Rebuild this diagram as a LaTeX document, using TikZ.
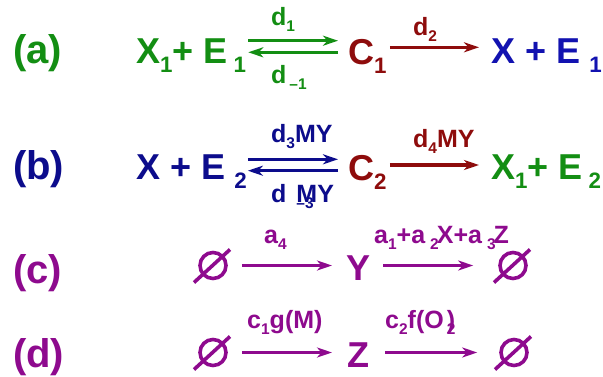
\documentclass[tikz,border=0pt]{standalone}
\usepackage{fontspec}
\setmainfont{Liberation Sans}
\usepackage{graphicx}
\usetikzlibrary{arrows.meta,positioning,calc}
\definecolor{rxngreen}{HTML}{138E13}
\definecolor{rxnnavy}{HTML}{0C0C8C}
\definecolor{rxnblue}{HTML}{1212B0}
\definecolor{rxnred}{HTML}{8E0C0C}
\definecolor{rxnpurple}{HTML}{8E0A8E}
\newcommand\lo[1]{\raisebox{-0.26em}{\scalebox{0.62}{#1}}}

\begin{document}
\begin{tikzpicture}[
    x=1pt, y=-1pt,
    tag/.style={font=\fontsize{40}{40}\selectfont\bfseries, inner sep=0, anchor=base west},
    species/.style={font=\fontsize{36}{36}\selectfont\bfseries, inner sep=0, anchor=base west},
    rate/.style={font=\fontsize{25}{25}\selectfont\bfseries, inner sep=0, anchor=base west},
    rxn/.style={line width=3.2pt, -{Stealth[length=15pt,width=10pt,inset=4.5pt]}},
    nullset/.style={circle, draw, line width=3.6pt, minimum size=26pt, inner sep=0}
]
  \fill[white] (0,0) rectangle (603,376);
  \useasboundingbox (0,0) rectangle (603,376);

  % (a)
  \node[tag, rxngreen] (tagA) at (13,63) {(a)};
  \node[species, rxngreen] (lhsA) at (136,63) {X\lo{1}+ E\,\lo{1}};
  \node[species, rxnred] (cA) at (348,64) {C\lo{1}};
  \node[species, rxnblue] (rhsA) at (491,63) {X + E\hspace{0.25em}\lo{1}};
  \node[rate, rxngreen] (dA1) at (271,25) {d\lo{1}};
  \node[rate, rxngreen] (dA2) at (271,83) {d\hspace{3pt}\lo{–1}};
  \node[rate, rxnred] (dA3) at (413,35) {d\lo{2}};
  \coordinate (upA) at (0,40.7);
  \coordinate (dnA) at (0,52.3);
  \coordinate (onA) at (0,47.3);
  \draw[rxn, rxngreen, shorten <=2pt, shorten >=10pt] (lhsA.east |- upA) -- (cA.west |- upA);
  \draw[rxn, rxngreen, shorten <=10pt, shorten >=2pt] (cA.west |- dnA) -- (lhsA.east |- dnA);
  \draw[rxn, rxnred, shorten <=3pt, shorten >=12pt] (cA.east |- onA) -- (rhsA.west |- onA);

  % (b)
  \node[tag, rxnnavy] (tagB) at (13,179) {(b)};
  \node[species, rxnnavy] (lhsB) at (136,179) {X + E\hspace{0.25em}\lo{2}};
  \node[species, rxnred] (cB) at (348,180) {C\lo{2}};
  \node[species, rxngreen] (rhsB) at (491,179) {X\lo{1}+ E\,\lo{2}};
  \node[rate, rxnnavy] (dB1) at (271,142) {d\lo{3}MY};
  \node[rate, rxnnavy] (dB2) at (271,202) {d\hspace{0.4em}\rlap{\lo{–3}}MY};
  \node[rate, rxnred] (dB3) at (413,147) {d\lo{4}MY};
  \coordinate (upB) at (0,159.3);
  \coordinate (dnB) at (0,170.7);
  \coordinate (onB) at (0,165);
  \draw[rxn, rxnnavy, shorten <=1pt, shorten >=10pt] (lhsB.east |- upB) -- (cB.west |- upB);
  \draw[rxn, rxnnavy, shorten <=10pt, shorten >=1pt] (cB.west |- dnB) -- (lhsB.east |- dnB);
  \draw[rxn, rxnred, shorten <=3pt, shorten >=12pt] (cB.east |- onB) -- (rhsB.west |- onB);

  % (c)
  \node[tag, rxnpurple] (tagC) at (13,283) {(c)};
  \node[nullset, rxnpurple] (c0) at (213,265.5) {};
  \node[species, rxnpurple] (Y) at (346,280) {Y};
  \node[nullset, rxnpurple] (c9) at (513,265.5) {};
  \node[rate, rxnpurple] (kC1) at (264,243) {a\lo{4}};
  \node[rate, rxnpurple] (kC2) at (374,243) {a\lo{1}+a\hspace{0.2em}\lo{2}\kern-2pt X+a\hspace{0.2em}\lo{3}\kern-2pt Z};
  \draw[rxn, rxnpurple, shorten <=14pt, shorten >=14pt] (c0.east) -- (c0.east -| Y.west);
  \draw[rxn, rxnpurple, shorten <=13pt, shorten >=25pt] (Y.east |- c9.west) -- (c9.west);

  % (d)
  \node[tag, rxnpurple] (tagD) at (13,367) {(d)};
  \node[nullset, rxnpurple] (d0) at (213,352.5) {};
  \node[species, rxnpurple] (Z) at (347,367) {Z};
  \node[nullset, rxnpurple] (d9) at (514,352.5) {};
  \node[rate, rxnpurple] (kD1) at (247,328) {c\lo{1}g(M)};
  \node[rate, rxnpurple] (kD2) at (385,328) {c\lo{2}f(O\kern3pt\rlap{\lo{2}})};
  \draw[rxn, rxnpurple, shorten <=14pt, shorten >=15pt] (d0.east) -- (d0.east -| Z.west);
  \draw[rxn, rxnpurple, shorten <=16pt, shorten >=22pt] (Z.east |- d9.west) -- (d9.west);

  \foreach \n in {c0,c9,d0,d9}
    \draw[rxnpurple, line width=3.6pt] ([shift={(-19,17)}]\n.center) -- ([shift={(17,-16)}]\n.center);
\end{tikzpicture}
\end{document}
